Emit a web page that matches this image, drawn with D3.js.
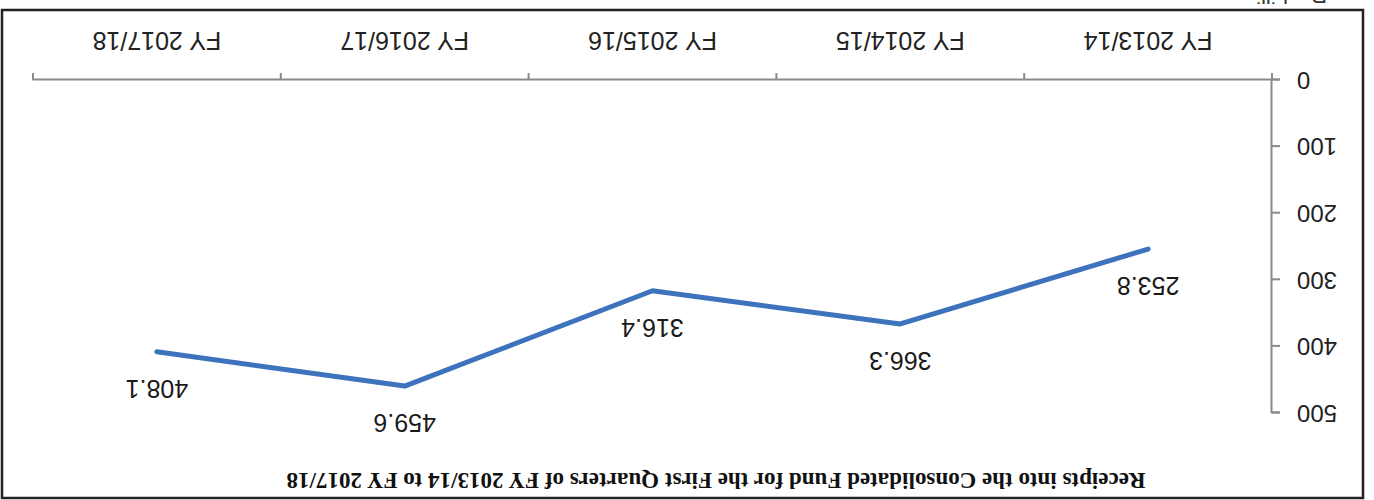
<!DOCTYPE html>
<html>
<head>
<meta charset="utf-8">
<script src="https://cdn.jsdelivr.net/npm/d3@7"></script>
<style>
    body { margin: 0; background: #fff; }
</style>
</head>
<body>
<div id="chart"></div>
<script>
"use strict";

var categories = ["FY 2013/14", "FY 2014/15", "FY 2015/16", "FY 2016/17", "FY 2017/18"];
var receipts = [253.8, 366.3, 316.4, 459.6, 408.1];
var yTicks = [0, 100, 200, 300, 400, 500];
var title = "Receipts into the Consolidated Fund for the First Quarters of FY 2013/14 to FY 2017/18";

var width = 1374;
var height = 500;

var svg = d3.select("#chart")
    .append("svg")
    .attr("width", width)
    .attr("height", height);

svg.append("rect")
    .attr("width", width)
    .attr("height", height)
    .attr("fill", "#fff");

// the scanned page is upside down, so draw it normally and turn it round
var g = svg.append("g")
    .attr("transform", "rotate(180," + width / 2 + "," + height / 2 + ")");

g.append("rect")
    .attr("x", 11)
    .attr("y", 2)
    .attr("width", 1361)
    .attr("height", 488)
    .attr("fill", "none")
    .attr("stroke", "#222")
    .attr("stroke-width", 2.5);

g.append("text")
    .attr("x", 658)
    .attr("y", 27)
    .attr("text-anchor", "middle")
    .attr("font-family", "'Liberation Serif', 'Times New Roman', serif")
    .attr("font-weight", "bold")
    .attr("font-size", "23px")
    .attr("fill", "#111")
    .text(title);

// unit line under the frame, mostly cut off by the page edge
g.append("text")
    .attr("x", 47)
    .attr("y", 512)
    .attr("font-family", "'Liberation Sans', Arial, sans-serif")
    .attr("font-size", "22px")
    .attr("fill", "#333")
    .text("Rs. billion");

var x = d3.scaleBand()
    .domain(categories)
    .range([102, 1341]);

var y = d3.scaleLinear()
    .domain([0, 500])
    .range([420, 87]);

var xAxis = g.append("g")
    .attr("transform", "translate(0," + y(0) + ")")
    .call(d3.axisBottom(x).tickSize(0).tickPadding(30));

xAxis.selectAll("text")
    .attr("font-family", "'Liberation Sans', Arial, sans-serif")
    .attr("font-size", "25px")
    .attr("fill", "#222");

// tick marks sit on the category boundaries
xAxis.selectAll(".bound")
    .data(categories.concat([null]))
    .enter()
    .append("line")
    .attr("class", "bound")
    .attr("x1", function (d, i) {
        return x.range()[0] + i * x.step();
    })
    .attr("x2", function (d, i) {
        return x.range()[0] + i * x.step();
    })
    .attr("y1", 0)
    .attr("y2", 7)
    .attr("stroke", "#8a8a8a")
    .attr("stroke-width", 2);

var yAxis = g.append("g")
    .attr("transform", "translate(" + x.range()[0] + ",0)")
    .call(d3.axisLeft(y).tickValues(yTicks).tickSize(8).tickPadding(17));

yAxis.selectAll("text")
    .attr("font-family", "'Liberation Sans', Arial, sans-serif")
    .attr("font-size", "24px")
    .attr("fill", "#222");

g.selectAll(".domain, .tick line")
    .attr("stroke", "#8a8a8a")
    .attr("stroke-width", 2);

var line = d3.line()
    .x(function (d, i) {
        return x(categories[i]) + x.bandwidth() / 2;
    })
    .y(function (d) {
        return y(d);
    });

g.append("path")
    .datum(receipts)
    .attr("d", line)
    .attr("fill", "none")
    .attr("stroke", "#3d72bd")
    .attr("stroke-width", 5)
    .attr("stroke-linejoin", "round")
    .attr("stroke-linecap", "round");

g.selectAll(".label")
    .data(receipts)
    .enter()
    .append("text")
    .attr("class", "label")
    .attr("x", function (d, i) {
        return x(categories[i]) + x.bandwidth() / 2;
    })
    .attr("y", function (d) {
        return y(d) - 28;
    })
    .attr("text-anchor", "middle")
    .attr("font-family", "'Liberation Sans', Arial, sans-serif")
    .attr("font-size", "25px")
    .attr("fill", "#1a1a1a")
    .text(function (d) {
        return d.toFixed(1);
    });
</script>
</body>
</html>
